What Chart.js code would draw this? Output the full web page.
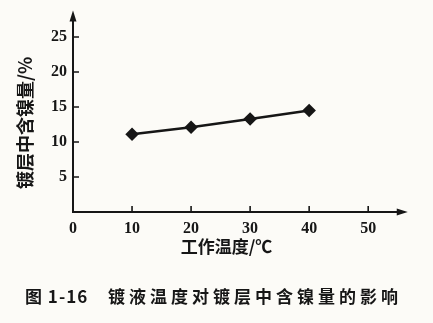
<!DOCTYPE html>
<html>
<head>
<meta charset="utf-8">
<script src="https://cdn.jsdelivr.net/npm/chart.js@4.4.0/dist/chart.umd.min.js"></script>
<style>
html, body { margin: 0; padding: 0; background: #fcfbf7; }
#wrap { width: 433px; height: 323px; }
</style>
</head>
<body>
<div id="wrap"><canvas id="c" width="433" height="323"></canvas></div>
<script>
// data
const temps = [10, 20, 30, 40];
const nickel = [11.1, 12.1, 13.3, 14.5];
const xTicks = [0, 10, 20, 30, 40, 50];
const yTicks = [5, 10, 15, 20, 25];
const xTitle = '工作温度/℃';
const yTitle = '镀层中含镍量/%';
const figNo = '图 1-16';
const caption = '镀液温度对镀层中含镍量的影响';

const ink = '#161616';
const xArrowTo = 56.7;   // axis arrows run past the last tick
const yArrowTo = 28.8;

// axis lines, arrows and inward ticks, plus the figure caption
const axesPlugin = {
    id: 'axes',
    afterDraw(chart) {
        const { ctx, scales: { x, y } } = chart;
        const x0 = x.getPixelForValue(0), y0 = y.getPixelForValue(0);
        const xe = x.getPixelForValue(xArrowTo), ye = y.getPixelForValue(yArrowTo);
        ctx.save();
        ctx.strokeStyle = ink;
        ctx.fillStyle = ink;
        ctx.lineWidth = 2;
        ctx.beginPath();
        ctx.moveTo(x0, ye + 8);
        ctx.lineTo(x0, y0);
        ctx.lineTo(xe - 8, y0);
        ctx.stroke();
        // arrow heads
        ctx.beginPath();
        ctx.moveTo(x0, ye);
        ctx.lineTo(x0 - 3.5, ye + 11);
        ctx.lineTo(x0 + 3.5, ye + 11);
        ctx.closePath();
        ctx.fill();
        ctx.beginPath();
        ctx.moveTo(xe, y0);
        ctx.lineTo(xe - 11, y0 - 3.5);
        ctx.lineTo(xe - 11, y0 + 3.5);
        ctx.closePath();
        ctx.fill();
        // ticks
        ctx.lineWidth = 1.6;
        ctx.beginPath();
        yTicks.forEach(v => {
            const py = y.getPixelForValue(v);
            ctx.moveTo(x0, py);
            ctx.lineTo(x0 + 6, py);
        });
        xTicks.filter(v => v > 0).forEach(v => {
            const px = x.getPixelForValue(v);
            ctx.moveTo(px, y0);
            ctx.lineTo(px, y0 - 6);
        });
        ctx.stroke();
        // caption
        ctx.font = 'bold 17px "Noto Sans CJK SC"';
        ctx.textBaseline = 'middle';
        ctx.textAlign = 'left';
        ctx.letterSpacing = '1px';
        ctx.fillText(figNo, 25, 297);
        ctx.letterSpacing = '4px';
        ctx.fillText(caption, 108, 297);
        ctx.restore();
    }
};

const data = {
    labels: temps,
    datasets: [{
        data: temps.map((t, i) => ({ x: t, y: nickel[i] })),
        borderColor: ink,
        backgroundColor: ink,
        borderWidth: 2.5,
        pointStyle: 'rectRot',
        pointRadius: 5,
        pointHoverRadius: 5,
        clip: false
    }]
};

const options = {
    responsive: false,
    animation: false,
    layout: { padding: { left: 0, top: 33.5, right: 53, bottom: 39.2 } },
    plugins: { legend: { display: false }, tooltip: { enabled: false } },
    scales: {
        x: {
            type: 'linear',
            min: 0,
            max: 52,
            afterBuildTicks: s => { s.ticks = xTicks.map(v => ({ value: v })); },
            afterFit: s => { s.height = 71.8; },
            grid: { display: false, drawTicks: false },
            border: { display: false },
            ticks: {
                padding: 7,
                color: ink,
                font: { family: '"Liberation Serif"', size: 16, weight: 'bold' },
                maxRotation: 0
            },
            title: {
                display: true,
                text: xTitle,
                color: ink,
                font: { family: '"Noto Sans CJK SC"', size: 17, weight: 'bold' },
                padding: { top: 0, bottom: 26.6 }
            }
        },
        y: {
            type: 'linear',
            min: 0,
            max: 25.5,
            afterBuildTicks: s => { s.ticks = yTicks.map(v => ({ value: v })); },
            afterFit: s => { s.width = 73; },
            grid: { display: false, drawTicks: false },
            border: { display: false },
            ticks: {
                padding: 6,
                color: ink,
                font: { family: '"Liberation Serif"', size: 16, weight: 'bold' }
            },
            title: {
                display: true,
                text: yTitle,
                color: ink,
                font: { family: '"Noto Sans CJK SC"', size: 18, weight: 'bold' },
                padding: { top: 14, bottom: 0 }
            }
        }
    }
};

new Chart(document.getElementById('c').getContext('2d'), {
    type: 'line', data: data, options: options, plugins: [axesPlugin]
});
</script>
</body>
</html>
